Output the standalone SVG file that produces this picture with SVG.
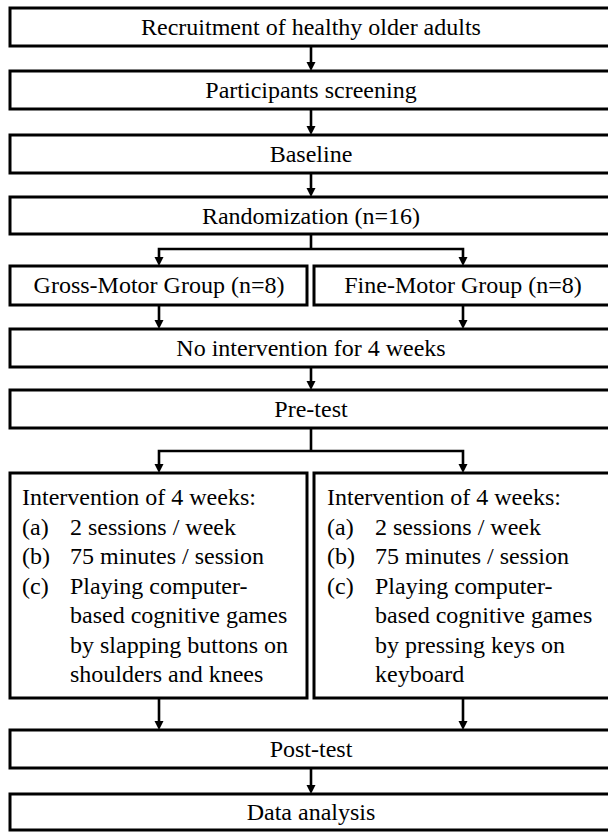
<svg xmlns="http://www.w3.org/2000/svg" width="608" height="832" viewBox="0 0 608 832">
  <defs>
    <style>
      .box { fill: #fff; stroke: #000; stroke-width: 3; }
      .lbl { font-family: "Liberation Serif", "Times New Roman", serif; font-size: 24px; fill: #000; }
      .mid { text-anchor: middle; }
      .wire { fill: none; stroke: #000; stroke-width: 2.6; }
      .head { stroke: none; fill: #000; }
    </style>
  </defs>

  <rect width="608" height="832" fill="#fff"/>

  <!-- connectors: shafts plus filled triangular heads -->
  <g id="connectors">
    <path class="wire" d="M311,46 V62"/>
    <path class="head" d="M306.5,62 L315.5,62 L311,71 Z"/>
    <path class="wire" d="M311,109 V126"/>
    <path class="head" d="M306.5,126 L315.5,126 L311,135 Z"/>
    <path class="wire" d="M311,173 V188"/>
    <path class="head" d="M306.5,188 L315.5,188 L311,197 Z"/>

    <!-- split after randomization -->
    <path class="wire" d="M311,234 V249 M159,257 V249 H463 V257"/>
    <path class="head" d="M154.5,257 L163.5,257 L159,266 Z"/>
    <path class="head" d="M458.5,257 L467.5,257 L463,266 Z"/>

    <path class="wire" d="M159,305 V320 M463,305 V320"/>
    <path class="head" d="M154.5,320 L163.5,320 L159,329 Z"/>
    <path class="head" d="M458.5,320 L467.5,320 L463,329 Z"/>

    <path class="wire" d="M311,367 V381"/>
    <path class="head" d="M306.5,381 L315.5,381 L311,390 Z"/>

    <!-- split after pre-test -->
    <path class="wire" d="M311,428 V451 M159,464 V451 H463 V464"/>
    <path class="head" d="M154.5,464 L163.5,464 L159,473 Z"/>
    <path class="head" d="M458.5,464 L467.5,464 L463,473 Z"/>

    <path class="wire" d="M159,698 V721 M463,698 V721"/>
    <path class="head" d="M154.5,721 L163.5,721 L159,730 Z"/>
    <path class="head" d="M458.5,721 L467.5,721 L463,730 Z"/>

    <path class="wire" d="M311,768 V785"/>
    <path class="head" d="M306.5,785 L315.5,785 L311,794 Z"/>
  </g>

  <g id="recruitment">
    <rect class="box" x="10" y="8" width="604" height="38"/>
    <text class="lbl mid" x="311" y="35">Recruitment of healthy older adults</text>
  </g>
  <g id="screening">
    <rect class="box" x="10" y="71" width="604" height="38"/>
    <text class="lbl mid" x="311" y="98">Participants screening</text>
  </g>
  <g id="baseline">
    <rect class="box" x="10" y="135" width="604" height="38"/>
    <text class="lbl mid" x="311" y="162">Baseline</text>
  </g>
  <g id="randomization">
    <rect class="box" x="10" y="197" width="604" height="37"/>
    <text class="lbl mid" x="311" y="224">Randomization (n=16)</text>
  </g>
  <g id="gross-group">
    <rect class="box" x="10" y="266" width="297" height="39"/>
    <text class="lbl mid" x="159" y="293">Gross-Motor Group (n=8)</text>
  </g>
  <g id="fine-group">
    <rect class="box" x="314" y="266" width="300" height="39"/>
    <text class="lbl mid" x="463" y="293">Fine-Motor Group (n=8)</text>
  </g>
  <g id="no-intervention">
    <rect class="box" x="10" y="329" width="604" height="38"/>
    <text class="lbl mid" x="311" y="356">No intervention for 4 weeks</text>
  </g>
  <g id="pre-test">
    <rect class="box" x="10" y="390" width="604" height="38"/>
    <text class="lbl mid" x="311" y="417">Pre-test</text>
  </g>
  <g id="gross-intervention">
    <rect class="box" x="10" y="473" width="297" height="225"/>
    <text class="lbl" x="22" y="505">Intervention of 4 weeks:</text>
    <text class="lbl" x="22" y="534.5">(a)</text><text class="lbl" x="70" y="534.5">2 sessions / week</text>
    <text class="lbl" x="22" y="564">(b)</text><text class="lbl" x="70" y="564">75 minutes / session</text>
    <text class="lbl" x="22" y="593.5">(c)</text><text class="lbl" x="70" y="593.5">Playing computer-</text>
    <text class="lbl" x="70" y="623">based cognitive games</text>
    <text class="lbl" x="70" y="652.5">by slapping buttons on</text>
    <text class="lbl" x="70" y="682">shoulders and knees</text>
  </g>
  <g id="fine-intervention">
    <rect class="box" x="314" y="473" width="300" height="225"/>
    <text class="lbl" x="327" y="505">Intervention of 4 weeks:</text>
    <text class="lbl" x="327" y="534.5">(a)</text><text class="lbl" x="375" y="534.5">2 sessions / week</text>
    <text class="lbl" x="327" y="564">(b)</text><text class="lbl" x="375" y="564">75 minutes / session</text>
    <text class="lbl" x="327" y="593.5">(c)</text><text class="lbl" x="375" y="593.5">Playing computer-</text>
    <text class="lbl" x="375" y="623">based cognitive games</text>
    <text class="lbl" x="375" y="652.5">by pressing keys on</text>
    <text class="lbl" x="375" y="682">keyboard</text>
  </g>
  <g id="post-test">
    <rect class="box" x="10" y="730" width="604" height="38"/>
    <text class="lbl mid" x="311" y="757">Post-test</text>
  </g>
  <g id="data-analysis">
    <rect class="box" x="10" y="794" width="604" height="36"/>
    <text class="lbl mid" x="311" y="820">Data analysis</text>
  </g>
</svg>
